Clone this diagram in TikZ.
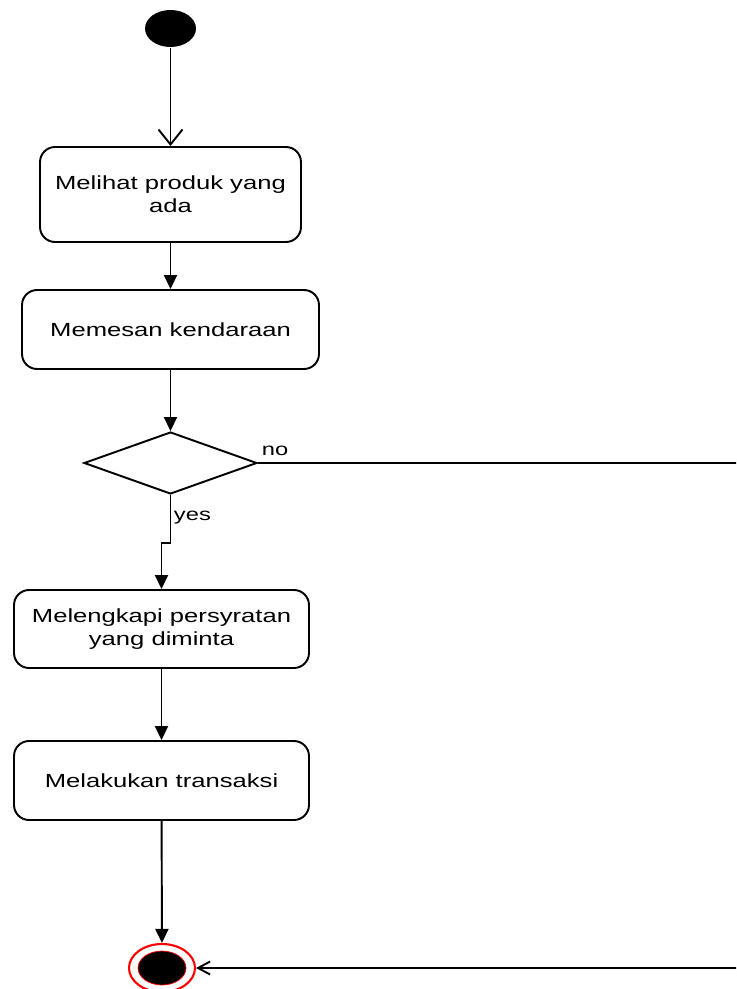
\documentclass[tikz,border=0pt]{standalone}
\usepackage{fontspec}
\newfontfamily\diagfont{Liberation Sans}[FakeStretch=1.35]
\usepackage{tikz}
\usetikzlibrary{shapes.geometric,arrows.meta}

\begin{document}
\begin{tikzpicture}[x=0.02cm,y=-0.02cm,line width=1.1pt,
    activity/.style={draw,rounded corners=0.3cm,align=center,inner sep=0pt,
      font=\diagfont\fontsize{10.8}{13}\selectfont},
    flow/.style={-{Triangle[length=0.28cm,width=0.26cm]}},
    openflow/.style={-{Straight Barb[length=0.3cm,width=0.48cm]}},
    guard/.style={font=\diagfont\fontsize{10}{12}\selectfont,inner sep=0pt}]
  \clip (0,0) rectangle (736,989);

  \node [name=start,shape=ellipse,fill=black,minimum width=1.02cm,
      minimum height=0.74cm,inner sep=0pt] at (170.5,28.5) {};

  \node [activity,name=lihat,minimum width=5.22cm,minimum height=1.9cm]
      at (170.5,194.5) {Melihat produk yang\\ada};
  \node [activity,name=pesan,minimum width=5.94cm,minimum height=1.58cm]
      at (170.5,329.5) {Memesan kendaraan};

  \node [name=cek,shape=diamond,draw,minimum width=3.46cm,
      minimum height=1.24cm,inner sep=0pt] at (170.5,463) {};

  \node [activity,name=syarat,minimum width=5.9cm,minimum height=1.56cm]
      at (161.5,629) {Melengkapi persyratan\\yang diminta};
  \node [activity,name=transaksi,minimum width=5.9cm,minimum height=1.58cm]
      at (161.5,780.5) {Melakukan transaksi};

  \node [name=akhir,shape=ellipse,draw=red,line width=1.2pt,fill=white,
      minimum width=1.32cm,minimum height=0.96cm] at (162,968) {};
  \node [name=akhirdot,shape=ellipse,fill=black,draw=red,line width=0.4pt,
      minimum width=0.96cm,minimum height=0.68cm,inner sep=0pt] at (akhir) {};

  \coordinate (jog) at (170.5,543);
  \coordinate (kanan1) at (745,463);
  \coordinate (kanan2) at (745,968);

  \draw [openflow] (start) -- (lihat);
  \draw [flow] (lihat) -- (pesan);
  \draw [flow] (pesan) -- (cek);
  \draw [flow] (cek.south) -- (jog) -- ++(-9,0) -- (syarat.north);
  \draw [flow] (syarat) -- (transaksi);
  \draw [flow] (transaksi) -- (akhir);
  \draw (cek.east) -- (kanan1) -- (kanan2);
  \draw [-{Straight Barb[length=0.24cm,width=0.26cm]}] (kanan2) -- (akhir.east);

  \node [guard,anchor=south west] at (261,457) {no};
  \node [guard,anchor=west] at (173,518) {yes};
\end{tikzpicture}
\end{document}
